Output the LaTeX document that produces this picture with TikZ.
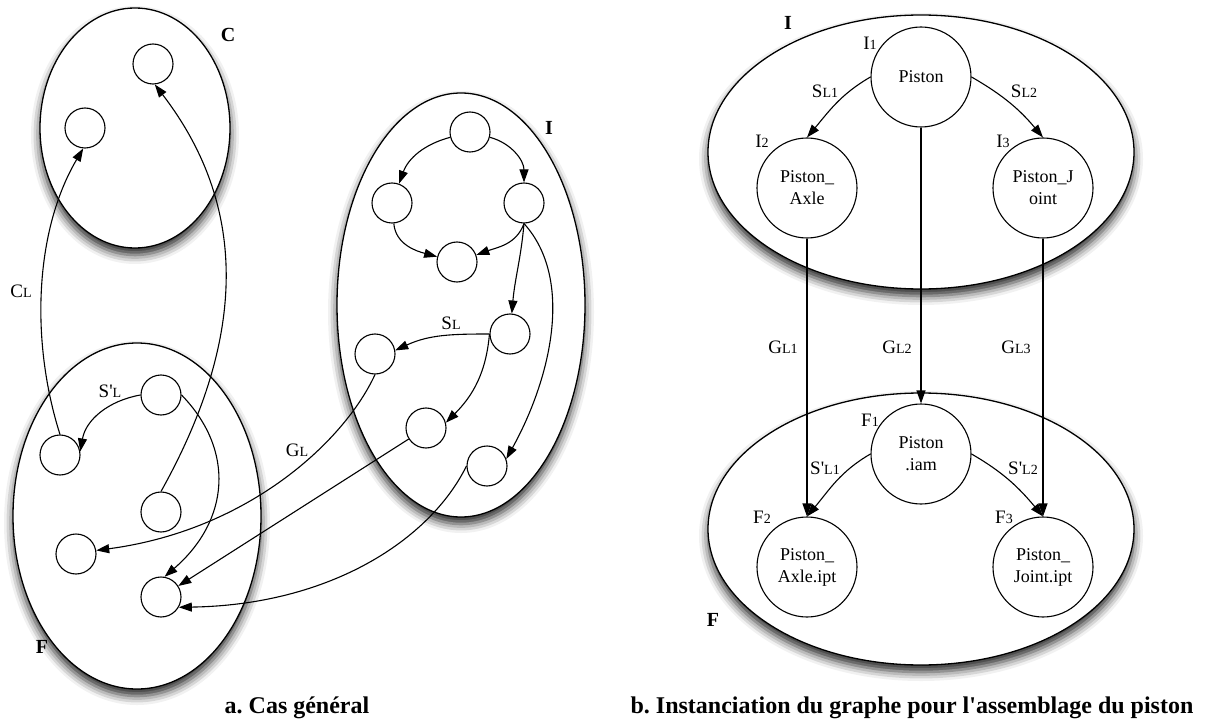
\documentclass[tikz,border=0pt]{standalone}
\usepackage{fontspec}
\setmainfont{Liberation Serif}
\usetikzlibrary{arrows.meta,shapes.geometric,shadows.blur}

\tikzset{
  grp/.style={ellipse, draw, line width=1.3pt, fill=white, inner sep=0pt,
    blur shadow={shadow xshift=0pt, shadow yshift=-7pt, shadow blur radius=9pt, shadow opacity=85}},
  st/.style={circle, draw, line width=1.1pt, fill=white, minimum size=40pt, inner sep=0pt},
  part/.style={st, minimum size=100pt, align=center, font=\fontsize{18}{22}\selectfont},
  lnk/.style={line width=1.1pt, -{Triangle[length=13pt,width=9pt]}},
  lbl/.style={font=\fontsize{19}{20}\selectfont, inner sep=0pt},
  grplbl/.style={font=\fontsize{20}{20}\selectfont\bfseries, inner sep=0pt},
  capt/.style={font=\fontsize{24}{26}\selectfont\bfseries, inner sep=0pt}
}
\newcommand{\lsub}[2]{#1{\fontsize{14}{14}\selectfont #2}}
\newcommand{\apos}{\textquotesingle}

\begin{document}
\begin{tikzpicture}[x=1pt,y=1pt]
    \useasboundingbox (0,0) rectangle (1221,-722);

    %groups, left
    \node[grp, minimum width=190pt, minimum height=240pt] (gC) at (135,-128) {};
    \node[grp, minimum width=248pt, minimum height=346pt] (gF) at (137,-516) {};
    \node[grp, minimum width=248pt, minimum height=424pt] (gI) at (461,-305) {};
    %groups, right
    \node[grp, minimum width=426pt, minimum height=274pt] (hI) at (921,-152) {};
    \node[grp, minimum width=426pt, minimum height=272pt] (hF) at (921,-529) {};

    % C
    \node[st] (ca) at (85,-128) {};
    \node[st] (cb) at (153,-64) {};
    % I
    \node[st] (i1) at (470,-132) {};
    \node[st] (i2) at (392,-203) {};
    \node[st] (i3) at (524,-203) {};
    \node[st] (i4) at (457,-262) {};
    \node[st] (i5) at (510,-334) {};
    \node[st] (i6) at (375,-354) {};
    \node[st] (i7) at (426,-428) {};
    \node[st] (i8) at (487,-466) {};
    % F
    \node[st] (f1) at (161,-395) {};
    \node[st] (f2) at (60,-455) {};
    \node[st] (f3) at (161,-512) {};
    \node[st] (f4) at (76,-554) {};
    \node[st] (f5) at (161,-597) {};

    % piston
    \node[part] (pa) at (921,-77) {Piston};
    \node[part] (pb) at (807,-188) {Piston\_\\Axle};
    \node[part] (pc) at (1043,-188) {Piston\_J\\oint};
    \node[part] (fa) at (921,-454) {Piston\\.iam};
    \node[part] (fb) at (807,-567) {Piston\_\\Axle.ipt};
    \node[part] (fc) at (1043,-567) {Piston\_\\Joint.ipt};

    % links inside I
    \draw[lnk] (i1) to[out=195,in=70] (i2);
    \draw[lnk] (i1) to[out=-15,in=90] (i3);
    \draw[lnk] (i2) to[out=-85,in=165] (i4);
    \draw[lnk] (i3.south) to[out=-110,in=20] (i4);
    \draw[lnk] (i3.south) to[out=-95,in=85] (i5);
    \draw[lnk] (i3.south) .. controls (575,-280) and (550,-380) .. (i8.20);
    \draw[lnk] (i5.west) to[out=180,in=25] (i6.10); % S_L
    \draw[lnk] (i5.west) to[out=-95,in=45] (i7.15);
    % I -> F
    \draw[lnk] (i6.south) .. controls (345,-440) and (250,-530) .. (f4.10); % G_L
    \draw[lnk] (i7) -- (f5);
    \draw[lnk] (i8.west) .. controls (430,-540) and (330,-605) .. (f5.-30);
    % inside F
    \draw[lnk] (f1.west) to[out=190,in=80] (f2.10); % S'_L
    \draw[lnk] (f1.east) .. controls (235,-450) and (230,-520) .. (f5.80);
    % F -> C
    \draw[lnk] (f2.north) .. controls (30,-340) and (35,-230) .. (ca.-95); % C_L
    \draw[lnk] (f3.north) .. controls (240,-350) and (255,-215) .. (cb.-85);

    % piston links
    \draw[lnk] (pa.west) to[out=-150,in=50] (pb.north);
    \draw[lnk] (pa.east) to[out=-30,in=130] (pc.north);
    \draw[lnk] (pa) -- (fa);
    \draw[lnk] (pb) -- (fb);
    \draw[lnk] (pc) -- (fc);
    \draw[lnk] (fa.west) to[out=-150,in=50] (fb.north);
    \draw[lnk] (fa.east) to[out=-30,in=130] (fc.north);

    % Label groups
    \node[grplbl] (tC) at (228,-35) {C};
    \node[grplbl] (tI) at (549,-128) {I};
    \node[grplbl] (tF) at (42,-647) {F};
    \node[grplbl] (uI) at (788,-23) {I};
    \node[grplbl] (uF) at (713,-620) {F};

    % Label links, left
    \node[lbl] (tCL) at (21,-291) {\lsub{C}{L}};
    \node[lbl] (tSL) at (451,-323) {\lsub{S}{L}};
    \node[lbl] (tSpL) at (110,-391) {\lsub{S\apos}{L}};
    \node[lbl] (tGL) at (297,-450) {\lsub{G}{L}};

    % Label values, right
    \node[lbl] (uI1) at (870,-43) {\lsub{I}{1}};
    \node[lbl] (uI2) at (762,-141) {\lsub{I}{2}};
    \node[lbl] (uI3) at (1003,-141) {\lsub{I}{3}};
    \node[lbl] (uSL1) at (825,-91) {\lsub{S}{L1}};
    \node[lbl] (uSL2) at (1024,-91) {\lsub{S}{L2}};
    \node[lbl] (uGL1) at (783,-347) {\lsub{G}{L1}};
    \node[lbl] (uGL2) at (897,-347) {\lsub{G}{L2}};
    \node[lbl] (uGL3) at (1016,-347) {\lsub{G}{L3}};
    \node[lbl] (uF1) at (870,-420) {\lsub{F}{1}};
    \node[lbl] (uF2) at (762,-517) {\lsub{F}{2}};
    \node[lbl] (uF3) at (1004,-517) {\lsub{F}{3}};
    \node[lbl] (uSpL1) at (825,-468) {\lsub{S\apos}{L1}};
    \node[lbl] (uSpL2) at (1023,-468) {\lsub{S\apos}{L2}};

    % captions
    \node[capt] (capa) at (297,-708) {a.\ Cas général};
    \node[capt] (capb) at (912,-708) {b.\ Instanciation du graphe pour l\apos assemblage du piston};

\end{tikzpicture}
\end{document}
